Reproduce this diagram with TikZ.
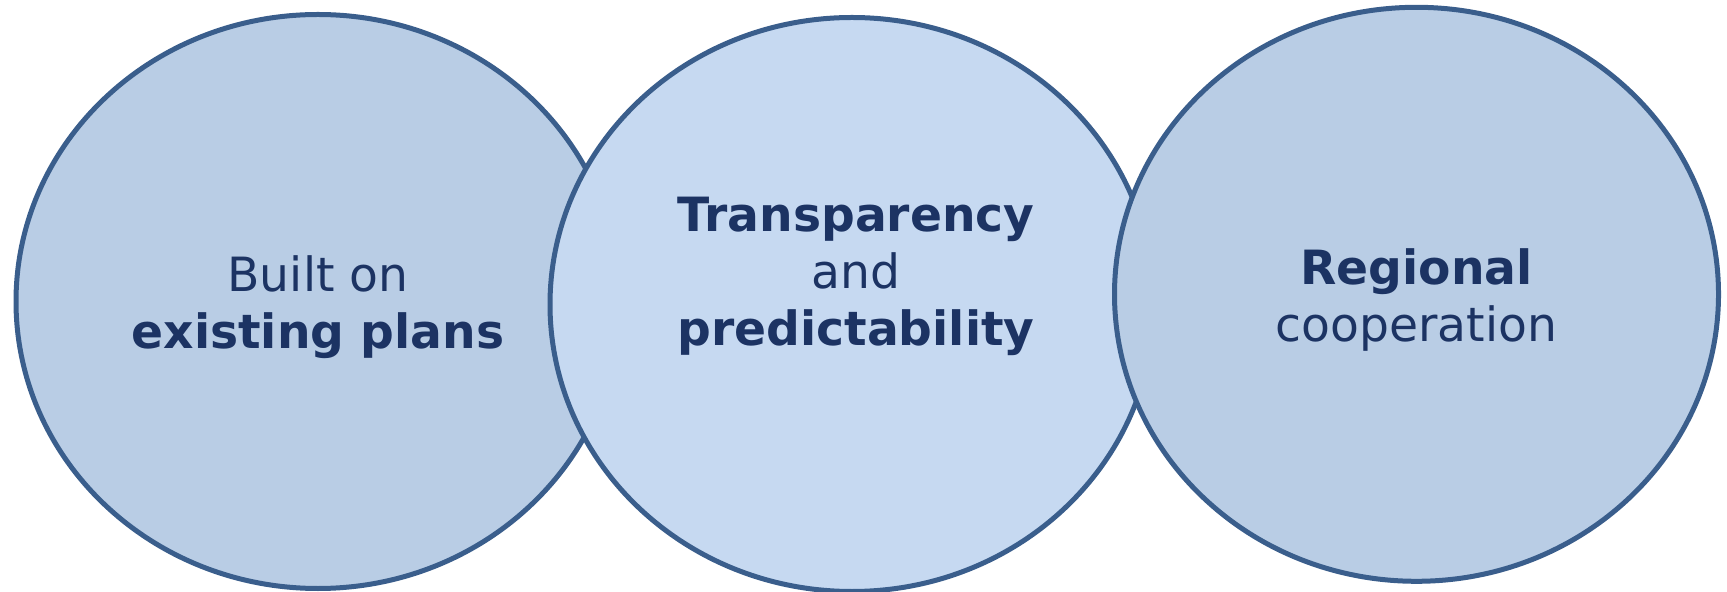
\documentclass[tikz,border=0pt]{standalone}
\usepackage{fontspec}
\setmainfont{DejaVu Sans}
\usetikzlibrary{shapes.geometric}
\definecolor{outl}{HTML}{3A5E8C}
\definecolor{fillA}{HTML}{B9CDE5}
\definecolor{fillB}{HTML}{C6D9F1}
\definecolor{txt}{HTML}{1C3363}
\begin{document}
\begin{tikzpicture}[x=0.5pt,y=-0.5pt,
  bubble/.style={ellipse,draw=outl,line width=2.5pt,inner sep=0pt,
    minimum width=302pt,minimum height=287pt},
  lbl/.style={anchor=base,inner sep=0pt,text=txt,font=\fontsize{23.6pt}{28pt}\selectfont},
  blbl/.style={lbl,font=\fontsize{23.6pt}{28pt}\selectfont\bfseries}]
\useasboundingbox (0,0) rectangle (1727,592);
\node[bubble,fill=fillA] (L) at (318,301.5) {};
\node[bubble,fill=fillB] (M) at (852,304.5) {};
\node[bubble,fill=fillA] (R) at (1416.5,294.3) {};
\node[lbl]  (l1) at (318,292) {Built on};
\node[blbl] (l2) at (318,348.5) {existing plans};
\node[blbl] (m1) at (856,231.7) {Transparency};
\node[lbl]  (m2) at (856,288.5) {and};
\node[blbl] (m3) at (856,345.5) {predictability};
\node[blbl] (r1) at (1416.5,285) {Regional};
\node[lbl]  (r2) at (1416.5,341.5) {cooperation};
\end{tikzpicture}
\end{document}
